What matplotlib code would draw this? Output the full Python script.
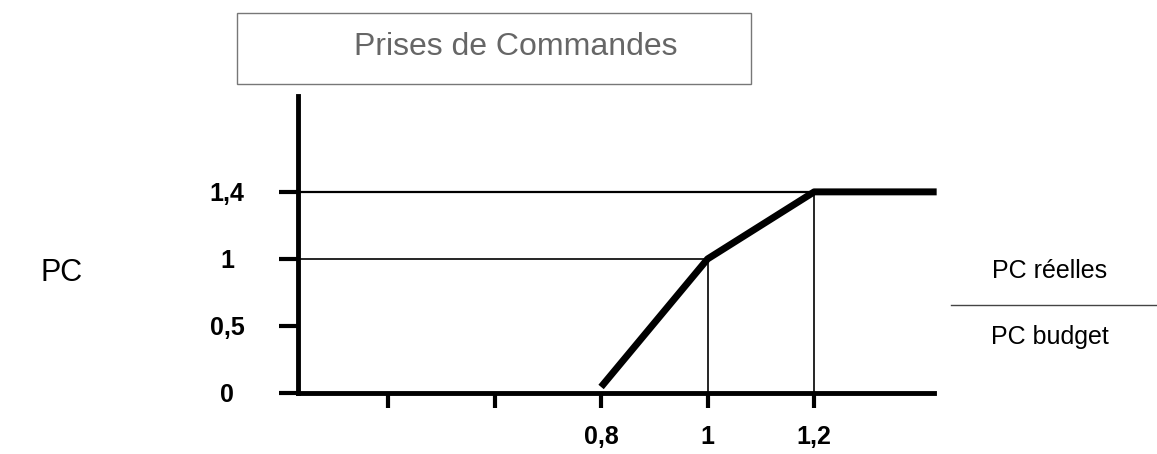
import numpy as np
import matplotlib
matplotlib.use('Agg')
import matplotlib.pyplot as plt
from matplotlib.patches import Rectangle
from matplotlib.lines import Line2D

plt.rcParams['font.family'] = ['Liberation Sans', 'DejaVu Sans']

# Data (ratio PC reelles / PC budget -> coefficient PC)
ratio = [0.8, 1.0, 1.2, 1.43]
coef = [0.045, 1.0, 1.4, 1.4]

# y ticks are drawn evenly spaced although the values are not
y_ticks = [0, 0.5, 1, 1.4]
y_labels = ['0', '0,5', '1', '1,4']
x_ticks = [0.4, 0.6, 0.8, 1.0, 1.2]
x_labels = ['', '', '0,8', '1', '1,2']

# guide lines
guide_x = [1.0, 1.2]
guide_y = [1.0, 1.4]

y_vals = [0, 0.5, 1, 1.4, 2.2]
y_pos = [0, 1, 2, 3, 5]


def fwd(v):
    return np.interp(v, y_vals, y_pos, left=-1, right=6)


def inv(p):
    return np.interp(p, y_pos, y_vals, left=-0.5, right=2.6)


fig = plt.figure(figsize=(11.57, 4.54), dpi=100)
ax = fig.add_axes([298 / 1157, 1 - 393 / 454, (934 - 298) / 1157, (393 - 96) / 454])
ax.set_yscale('function', functions=(fwd, inv))
ax.set_xlim(0.231, 1.425)
ax.set_ylim(0, inv(4.43))

# thin guide lines
ax.plot([0.231, guide_x[0]], [guide_y[0], guide_y[0]], color='black', lw=1.2)
ax.plot([0.231, guide_x[1]], [guide_y[1], guide_y[1]], color='black', lw=1.6)
ax.plot([guide_x[0], guide_x[0]], [0, guide_y[0]], color='black', lw=1.2)
ax.plot([guide_x[1], guide_x[1]], [0, guide_y[1]], color='black', lw=1.2)

# main curve
ax.plot(ratio, coef, color='black', lw=5, solid_capstyle='butt', clip_on=False)

for s in ['top', 'right']:
    ax.spines[s].set_visible(False)
for s in ['left', 'bottom']:
    ax.spines[s].set_linewidth(3.5)

ax.set_yticks(y_ticks)
ax.set_yticklabels(y_labels)
ax.set_xticks(x_ticks)
ax.set_xticklabels(x_labels)
ax.yaxis.set_minor_locator(matplotlib.ticker.NullLocator())
ax.tick_params(axis='y', length=14, width=3, pad=37, labelsize=18)
ax.tick_params(axis='x', length=11, width=3, pad=12, labelsize=18)
for t in ax.get_yticklabels():
    t.set_horizontalalignment('center')
    t.set_fontweight('bold')
for t in ax.get_xticklabels():
    t.set_fontweight('bold')

# title box
fig.patches.append(Rectangle((237 / 1157, 1 - 84 / 454), (751 - 237) / 1157, 71 / 454,
                             transform=fig.transFigure, fill=False, edgecolor='#777777', lw=1))
fig.text(516 / 1157, 1 - 47 / 454, 'Prises de Commandes', ha='center', va='center',
         fontsize=23, color='#666666')

fig.text(62 / 1157, 1 - 273 / 454, 'PC', ha='center', va='center', fontsize=22)

fig.text(1050 / 1157, 1 - 271 / 454, 'PC réelles', ha='center', va='center', fontsize=18)
fig.lines.append(Line2D([951 / 1157, 1.0], [1 - 305 / 454, 1 - 305 / 454],
                        transform=fig.transFigure, color='#444444', lw=1))
fig.text(1050 / 1157, 1 - 337 / 454, 'PC budget', ha='center', va='center', fontsize=18)

fig.savefig('out.png', dpi=100)
